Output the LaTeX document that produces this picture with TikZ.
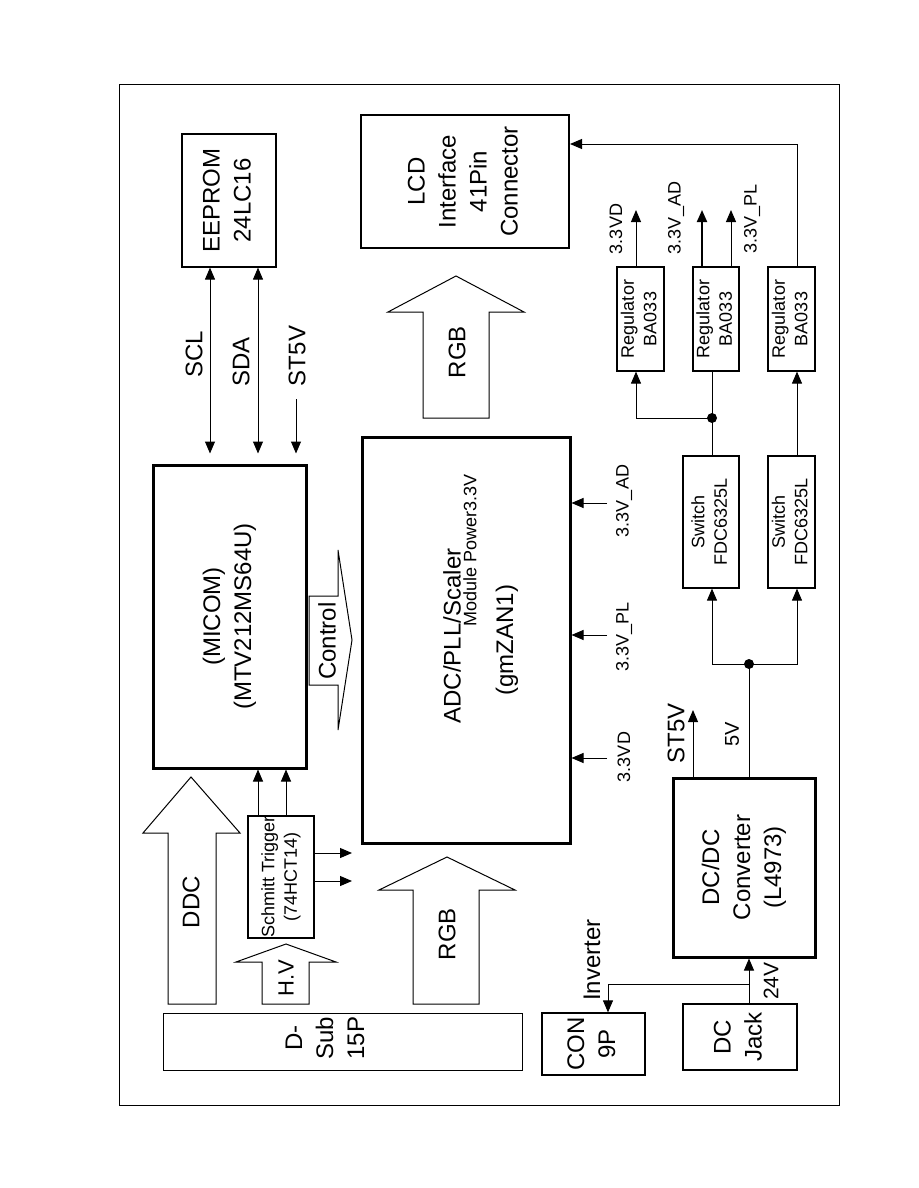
\documentclass[tikz,border=0pt]{standalone}
\usepackage{fontspec}
\setmainfont{Liberation Sans}
\usetikzlibrary{arrows.meta}
\newcommand\fbig{\fontsize{24}{31}\selectfont}
\newcommand\fsml{\fontsize{18}{22.5}\selectfont}
\newcommand\rtext[1]{\rotatebox{90}{\begin{tabular}{@{}c@{}}#1\end{tabular}}}
\begin{document}
\begin{tikzpicture}[x=1pt,y=-1pt,
  blk/.style={draw, line width=1.2pt, inner sep=0pt, align=center},
  thk/.style={blk, line width=3pt},
  lbl/.style={rotate=90, inner sep=0pt},
  big/.style={font=\fbig}, sml/.style={font=\fsml},
  arr/.style={line width=1pt, -{Triangle[length=12pt,width=10pt]}},
  dar/.style={line width=1pt, {Triangle[length=12pt,width=10pt]}-{Triangle[length=12pt,width=10pt]}},
  wire/.style={line width=1pt},
  barrow/.style={draw, line width=1pt, line join=miter},
  dot/.style={circle, fill, inner sep=0pt, minimum size=10pt}]
\fill[white] (0,0) rectangle (918,1188);
\useasboundingbox (0,0) rectangle (918,1188);
% frame
\draw[line width=1pt] (119,85) rectangle (839,1105);

% boxes
\node[blk, minimum width=94, minimum height=133, big] (eeprom) at (229,200.5) {\rtext{EEPROM\\24LC16}};
\node[blk, line width=2pt, minimum width=208, minimum height=133, big] (lcd) at (465,181.5) {\rtext{LCD\\Interface\\41Pin\\Connector}};
\node[thk, minimum width=153, minimum height=303, big] (micom) at (229.5,616.5) {\rtext{(MICOM)\\(MTV212MS64U)}};
\node[thk, minimum width=208, minimum height=406] (adc) at (466,640) {};
\node[lbl, big] at (452,636) {ADC/PLL/Scaler};
\node[lbl, sml] at (470,550) {Module Power3.3V};
\node[lbl, big] at (507,640) {(gmZAN1)};

\node[blk, minimum width=47, minimum height=104, sml] (reg1) at (640.5,319) {\rtext{Regulator\\BA033}};
\node[blk, minimum width=46, minimum height=104, sml] (reg2) at (716,319) {\rtext{Regulator\\BA033}};
\node[blk, minimum width=47, minimum height=104, sml] (reg3) at (791.5,319) {\rtext{Regulator\\BA033}};
\node[blk, minimum width=56, minimum height=132, sml] (sw1) at (711,522) {\rtext{Switch\\FDC6325L}};
\node[blk, minimum width=47, minimum height=132, sml] (sw2) at (791.5,522) {\rtext{Switch\\FDC6325L}};
\node[thk, minimum width=142, minimum height=179, big] (dcdc) at (744,867.5) {\rtext{DC/DC\\Converter\\(L4973)}};
\node[blk, minimum width=114, minimum height=66, big] (jack) at (740,1037) {\rtext{DC\\Jack}};
\node[blk, minimum width=103, minimum height=62, big] (con) at (593.5,1044) {\rtext{CON\\9P}};
\node[blk, line width=1pt, minimum width=359, minimum height=57] (dsub) at (342.5,1041.5) {};
\node[big, inner sep=0pt] at (327,1038) {\rtext{D-\\Sub\\15P}};
\node[blk, minimum width=66, minimum height=122, sml] (schmitt) at (281,877) {\rtext{Schmitt Trigger\\(74HCT14)}};

% block arrows
\draw[barrow] (423,418) -- (423,312) -- (388,312) -- (456,276) -- (524,312) -- (489,312) -- (489,418) -- cycle;
\draw[barrow] (168,1004) -- (168,833) -- (143,833) -- (191,777) -- (240,833) -- (216,833) -- (216,1004) -- cycle;
\draw[barrow] (262,1004) -- (262,962) -- (236,962) -- (286,944) -- (336,962) -- (309,962) -- (309,1004) -- cycle;
\draw[barrow] (413,1004) -- (413,890) -- (379,890) -- (447,857) -- (515,890) -- (479,890) -- (479,1004) -- cycle;
\draw[barrow] (309,596) -- (338,596) -- (338,550) -- (352,640) -- (338,730) -- (338,685) -- (309,685) -- cycle;

% labels
\node[lbl, big] at (194,354) {SCL};
\node[lbl, big] at (241,362) {SDA};
\node[lbl, big] at (297,356) {ST5V};
\node[lbl, big] at (457,352) {RGB};
\node[lbl, big] at (327,641) {Control};
\node[lbl, big] at (447,934) {RGB};
\node[lbl, big] at (191,902) {DDC};
\node[lbl, font=\fontsize{22}{26}\selectfont] at (286,978) {H.V};
\node[lbl, big] at (676,733) {ST5V};
\node[lbl, font=\fontsize{20}{24}\selectfont] at (732,734) {5V};
\node[lbl, font=\fontsize{21}{25}\selectfont] at (771,981) {24V};
\node[lbl, big] at (592,960) {Inverter};
\node[lbl, sml] at (616,229) {3.3VD};
\node[lbl, sml] at (676,218) {3.3V\_AD};
\node[lbl, sml] at (752,219) {3.3V\_PL};
\node[lbl, sml] at (624,501) {3.3V\_AD};
\node[lbl, sml] at (624,637) {3.3V\_PL};
\node[lbl, sml] at (624,757) {3.3VD};

% helper coordinates
\coordinate (xSCL) at (210,0);
\coordinate (xSDA) at (258,0);
\coordinate (stt) at (296,399);
\coordinate (i1) at (607,503);
\coordinate (i2) at (607,635);
\coordinate (i3) at (607,758);
\coordinate (o1) at (636,210);
\coordinate (o2) at (702,210);
\coordinate (o3) at (731,210);
\coordinate (c3) at (797,144);
\node[dot] (j1) at (712,418) {};
\node[dot] (j2) at (749,664) {};
\coordinate (st) at (693,710);
\coordinate (br) at (749,984);
\coordinate (inv) at (608,0);
\coordinate (s1) at (258,0);
\coordinate (s2) at (286,0);
\coordinate (h1) at (352,853);
\coordinate (h2) at (352,881);

% connectors
\draw[dar, shorten >=10pt] (eeprom.south -| xSCL) -- (micom.north -| xSCL);
\draw[dar, shorten >=10pt] (eeprom.south -| xSDA) -- (micom.north -| xSDA);
\draw[arr, shorten >=10pt] (stt) -- (micom.north -| stt);
\draw[arr] (i1) -- (adc.east |- i1);
\draw[arr] (i2) -- (adc.east |- i2);
\draw[arr] (i3) -- (adc.east |- i3);
\draw[arr] (reg1.north -| o1) -- (o1);
\draw[arr, line width=2pt] (reg2.north -| o2) -- (o2);
\draw[arr] (reg2.north -| o3) -- (o3);
\draw[arr] (reg3.north -| c3) -- (c3) -- (lcd.east |- c3);
\draw[wire] (sw1.north -| j1) -- (j1.center) -- (reg2.south -| j1);
\draw[arr] (j1.center) -| (reg1.south -| o1);
\draw[arr] (sw2.north -| c3) -- (reg3.south -| c3);
\draw[wire] (dcdc.north -| j2) -- (j2.center);
\draw[arr] (j2.center) -| (sw1.south -| j1);
\draw[arr] (j2.center) -| (sw2.south -| c3);
\draw[arr] (dcdc.north -| st) -- (st);
\draw[arr] (jack.north -| j2) -- (dcdc.south -| j2);
\draw[arr] (br) -| (con.north -| inv);
\draw[arr] (schmitt.north -| s1) -- (micom.south -| s1);
\draw[arr] (schmitt.north -| s2) -- (micom.south -| s2);
\draw[arr] (schmitt.east |- h1) -- (h1);
\draw[arr] (schmitt.east |- h2) -- (h2);
\end{tikzpicture}
\end{document}
